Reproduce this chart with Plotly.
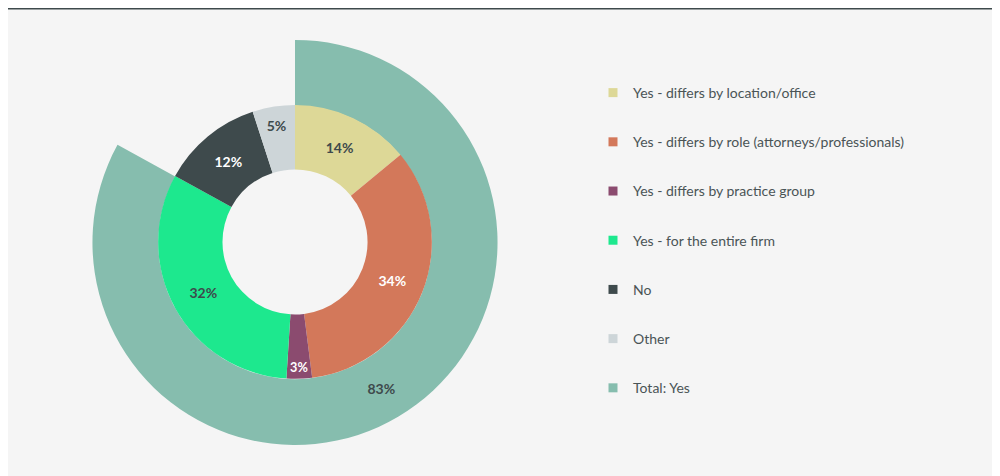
import plotly.graph_objects as go

inner_labels = ["Yes - differs by location/office", "Yes - differs by role (attorneys/professionals)",
                "Yes - differs by practice group", "Yes - for the entire firm", "No", "Other"]
inner_values = [14, 34, 3, 32, 12, 5]
inner_colors = ["#ddd897", "#d3785a", "#8b4b6f", "#1de88e", "#3e4a4c", "#cdd5d8"]
inner_text_colors = ["#3e4a4c", "white", "white", "#3e4a4c", "white", "#3e4a4c"]
outer_labels = ["Total: Yes", ""]
outer_values = [83, 17]
outer_color = "#86bdae"

fig = go.Figure()
fig.add_trace(go.Pie(values=outer_values, labels=outer_labels, sort=False, direction="clockwise",
                     rotation=0, hole=0.675, marker=dict(colors=[outer_color, "rgba(0,0,0,0)"], line=dict(width=0)),
                     texttemplate=["%{value}%", ""], textposition="inside", insidetextorientation="horizontal",
                     textfont=dict(color="#3e4a4c", size=14, family="Lato", weight="bold"),
                     domain=dict(x=[0.084, 0.490], y=[0.082, 0.933]), showlegend=False, hoverinfo="skip"))
fig.add_trace(go.Pie(values=inner_values, labels=inner_labels, sort=False, direction="clockwise",
                     rotation=0, hole=0.53, marker=dict(colors=inner_colors, line=dict(width=0)),
                     texttemplate="%{value}%", textposition="inside", insidetextorientation="horizontal",
                     textfont=dict(color=inner_text_colors, size=14, family="Lato", weight="bold"),
                     domain=dict(x=[0.150, 0.424], y=[0.221, 0.796]), showlegend=False))
for i, (lab, col) in enumerate(zip(inner_labels + ["Total: Yes"], inner_colors + [outer_color])):
    fig.add_trace(go.Scatter(x=[None], y=[None], mode="markers", name=lab, legendgroup=str(i),
                             marker=dict(symbol="square", size=9, color=col)))
fig.update_xaxes(visible=False)
fig.update_yaxes(visible=False)
fig.add_shape(type="line", xref="paper", yref="paper", x0=0, x1=1, y0=1, y1=1, line=dict(color="#3e4a4c", width=3))
fig.update_layout(width=1000, height=476, margin=dict(l=0, r=0, t=0, b=0),
                  paper_bgcolor="#f5f5f5", plot_bgcolor="#f5f5f5",
                  legend=dict(x=0.585, y=0.855, xanchor="left", yanchor="top", tracegroupgap=28,
                              itemwidth=30, font=dict(family="Lato", size=14, color="#4a5456"),
                              bgcolor="rgba(0,0,0,0)"))
fig.write_html("out.html")
